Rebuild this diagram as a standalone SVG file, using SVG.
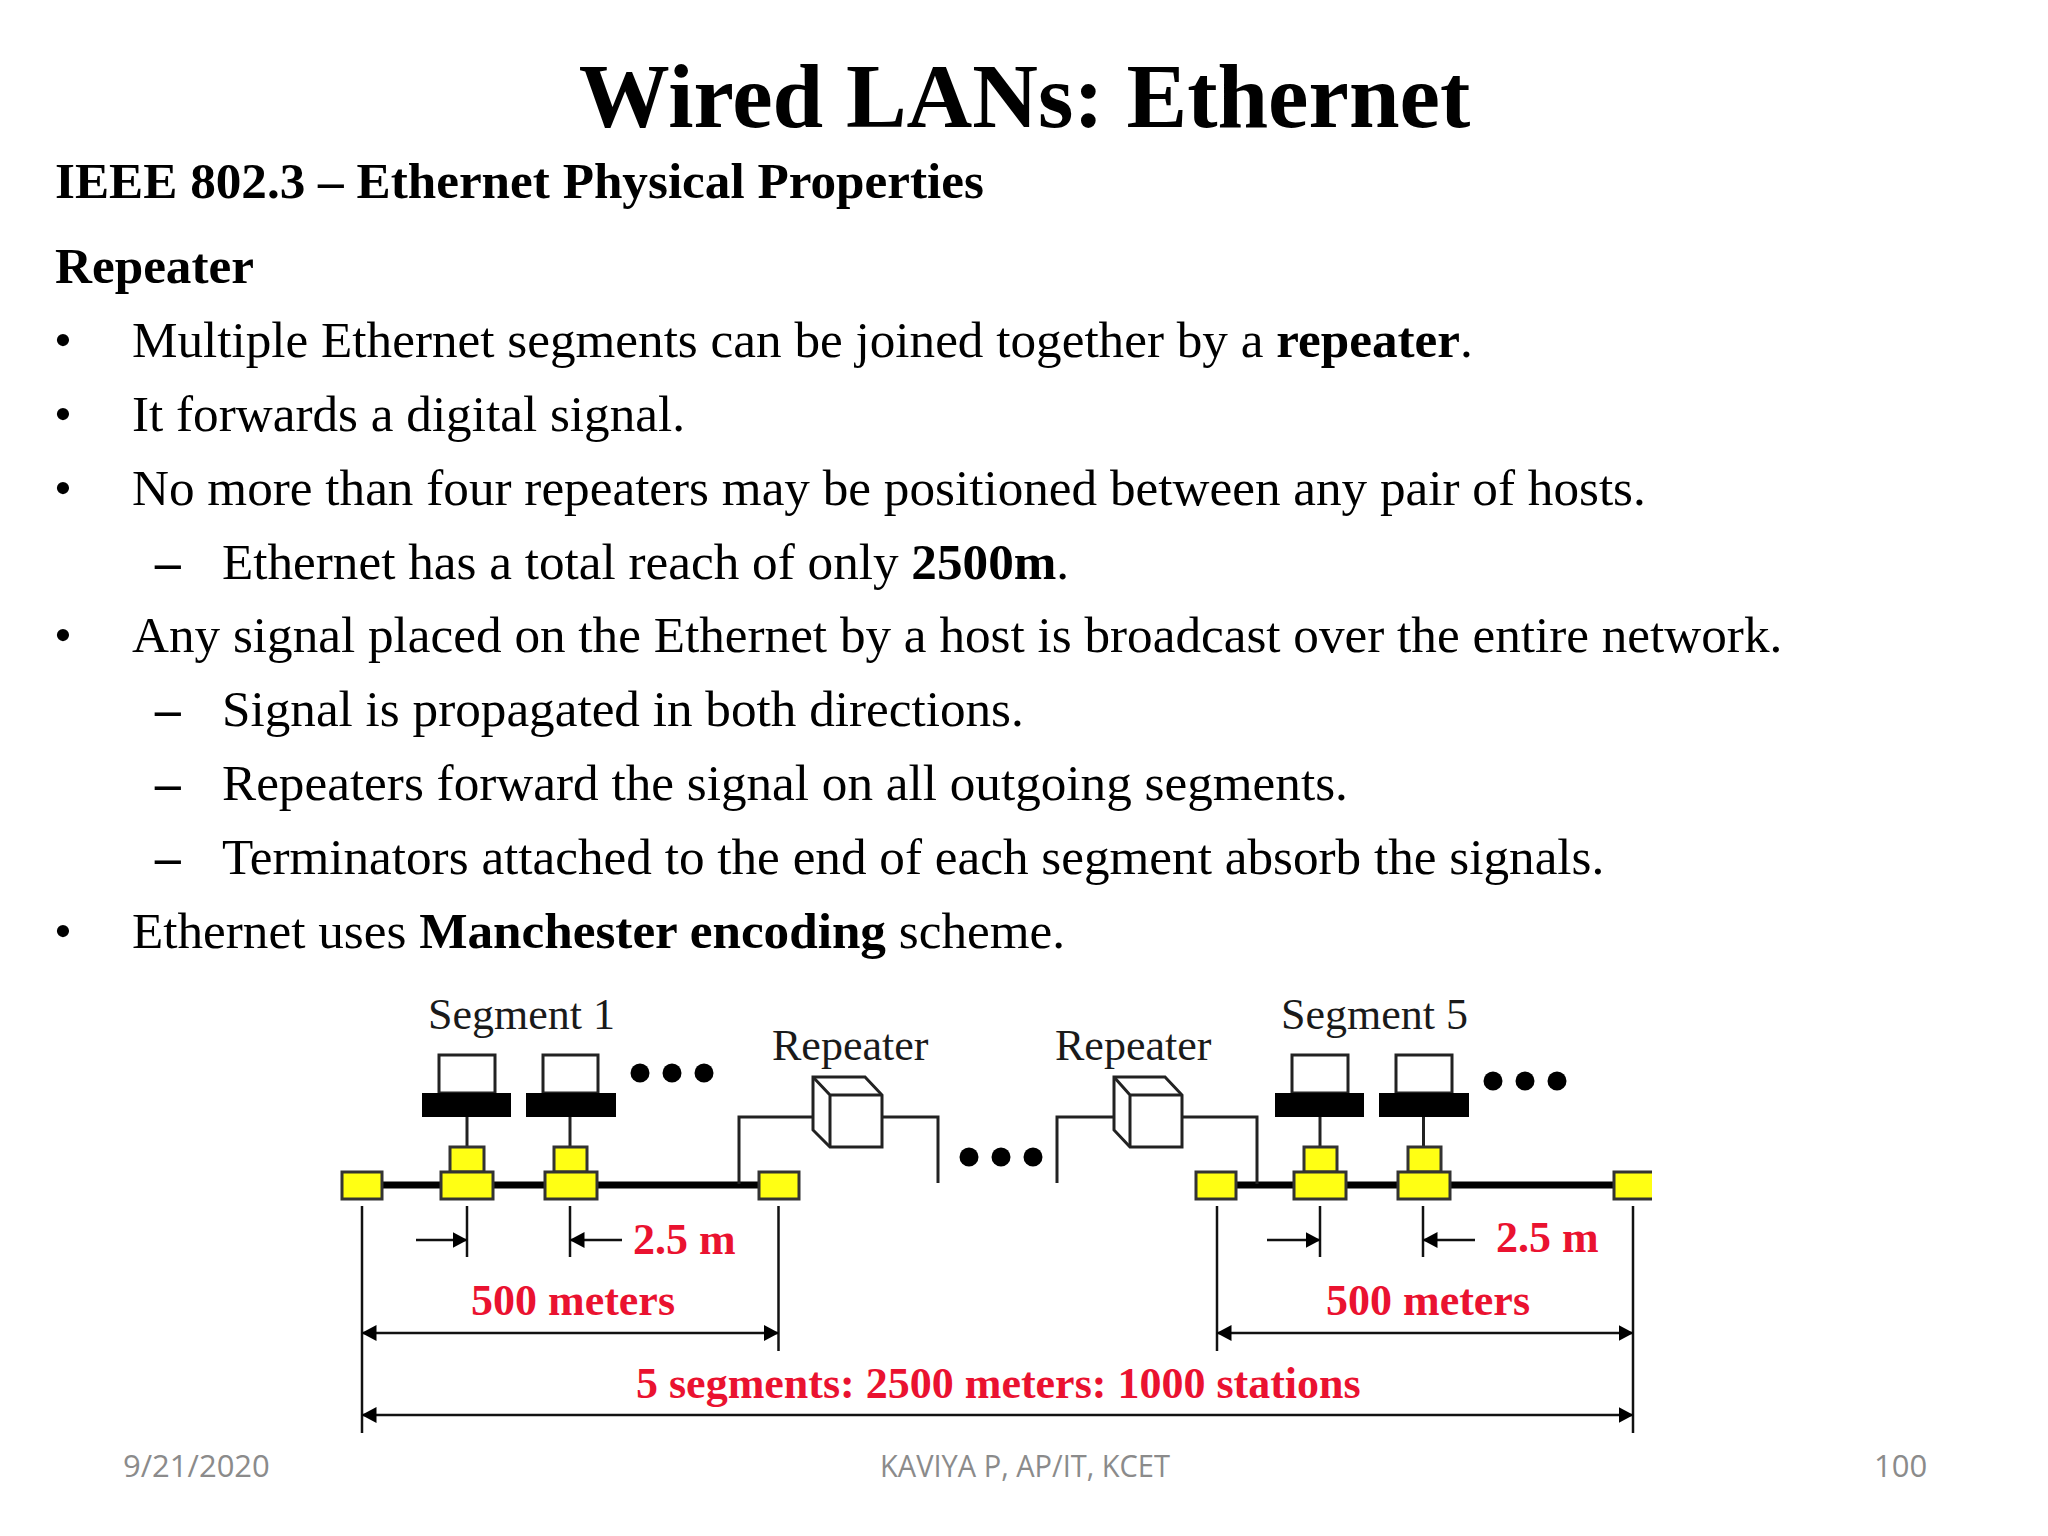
<svg xmlns="http://www.w3.org/2000/svg" width="2048" height="1536" viewBox="0 0 2048 1536">
<style>
text{font-family:"Liberation Serif","Times New Roman",serif;fill:#000}
.b{font-weight:bold}
.t{font-size:91px;font-weight:bold}
.h{font-size:51.200px;font-weight:bold}
.p{font-size:51.200px}
.l{font-size:44px;fill:#1a1a1a}
.r{font-size:44px;font-weight:bold;fill:#ea1230}
.f{font-family:"Open Sans","Noto Sans",sans-serif;font-size:31px;fill:#8b8b8b}
.y{fill:#ffff14;stroke:#333;stroke-width:3}
.w{fill:#fff;stroke:#222;stroke-width:3}
.k{fill:#000}
.s{fill:none;stroke:#222;stroke-width:3}
.c{fill:none;stroke:#000;stroke-width:7}
.d{fill:none;stroke:#111;stroke-width:2.500}
.a{marker-end:url(#ah)}
.aa{marker-start:url(#ah);marker-end:url(#ah)}
</style>
<defs>
<marker id="ah" markerUnits="userSpaceOnUse" markerWidth="16" markerHeight="18" refX="14.500" refY="8" orient="auto-start-reverse"><path d="M0 0L15 8L0 16Z" fill="#000"/></marker>
</defs>
<rect width="2048" height="1536" fill="#fff"/>
<g id="slide-text">
<text class="t" x="1024.500" y="127" text-anchor="middle">Wired LANs: Ethernet</text>
<text class="h" x="55" y="198">IEEE 802.3 – Ethernet Physical Properties</text>
<text class="h" x="55" y="283">Repeater</text>
<text class="p" x="54" y="357">•</text><text class="p" x="132" y="357">Multiple Ethernet segments can be joined together by a <tspan class="b">repeater</tspan>.</text>
<text class="p" x="54" y="431">•</text><text class="p" x="132" y="431">It forwards a digital signal.</text>
<text class="p" x="54" y="505">•</text><text class="p" x="132" y="505">No more than four repeaters may be positioned between any pair of hosts.</text>
<text class="p b" x="155" y="578.500">–</text><text class="p" x="222" y="578.500">Ethernet has a total reach of only <tspan class="b">2500m</tspan>.</text>
<text class="p" x="54" y="652">•</text><text class="p" x="132" y="652">Any signal placed on the Ethernet by a host is broadcast over the entire network.</text>
<text class="p b" x="155" y="726">–</text><text class="p" x="222" y="726">Signal is propagated in both directions.</text>
<text class="p b" x="155" y="800">–</text><text class="p" x="222" y="800">Repeaters forward the signal on all outgoing segments.</text>
<text class="p b" x="155" y="874">–</text><text class="p" x="222" y="874">Terminators attached to the end of each segment absorb the signals.</text>
<text class="p" x="54" y="947.500">•</text><text class="p" x="132" y="947.500">Ethernet uses <tspan class="b">Manchester encoding</tspan> scheme.</text>
</g>
<g id="connectors">
<path class="c" d="M383 1185H759"/>
<path class="c" d="M1237 1185H1615"/>
<path class="s" d="M739 1184V1117H813"/>
<path class="s" d="M882 1117H938V1183"/>
<path class="s" d="M1057 1183V1117H1114"/>
<path class="s" d="M1182 1117H1257V1184"/>
<path class="s" d="M467 1117V1147"/>
<path class="s" d="M570 1117V1147"/>
<path class="s" d="M1320 1117V1147"/>
<path class="s" d="M1423.500 1117V1147"/>
<path class="d" d="M362 1206V1433"/>
<path class="d" d="M778.500 1206V1351"/>
<path class="d" d="M1217 1206V1351"/>
<path class="d" d="M1633 1206V1433"/>
<path class="d" d="M467 1206V1257"/>
<path class="d" d="M570 1206V1257"/>
<path class="d" d="M1320 1206V1257"/>
<path class="d" d="M1423 1206V1257"/>
<path class="d a" d="M416 1240H467"/>
<path class="d a" d="M622 1240H570"/>
<path class="d a" d="M1267 1240H1320"/>
<path class="d a" d="M1475 1240H1423"/>
<path class="d aa" d="M362 1333H778.500"/>
<path class="d aa" d="M1217 1333H1633"/>
<path class="d aa" d="M362 1415H1633"/>
</g>
<g id="terminator-1"><rect class="y" x="342" y="1172" width="40" height="27"/></g>
<g id="station-1"><rect class="w" x="439" y="1055" width="56" height="38"/><rect class="k" x="422" y="1093" width="89" height="24"/><rect class="y" x="450" y="1147" width="34" height="25"/><rect class="y" x="441" y="1172" width="52" height="27"/></g>
<g id="station-2"><rect class="w" x="543" y="1055" width="55" height="38"/><rect class="k" x="526" y="1093" width="90" height="24"/><rect class="y" x="554" y="1147" width="33" height="25"/><rect class="y" x="545" y="1172" width="52" height="27"/></g>
<g id="terminator-2"><rect class="y" x="759" y="1172" width="40" height="27"/></g>
<g id="dots-1" class="k"><ellipse cx="640" cy="1073" rx="9.500" ry="9.500"/><ellipse cx="672" cy="1073" rx="9.500" ry="9.500"/><ellipse cx="704" cy="1073" rx="9.500" ry="9.500"/></g>
<g id="repeater-1"><path class="w" d="M813 1077H865L882 1095V1147H830L813 1130Z"/><path class="s" d="M813 1077L830 1095H882M830 1095V1147"/></g>
<g id="dots-2" class="k"><ellipse cx="969" cy="1157" rx="9.500" ry="9.500"/><ellipse cx="1001" cy="1157" rx="9.500" ry="9.500"/><ellipse cx="1033" cy="1157" rx="9.500" ry="9.500"/></g>
<g id="repeater-2"><path class="w" d="M1114 1077H1165L1182 1095V1147H1130L1114 1130Z"/><path class="s" d="M1114 1077L1130 1095H1182M1130 1095V1147"/></g>
<g id="terminator-3"><rect class="y" x="1196" y="1172" width="40" height="27"/></g>
<g id="station-3"><rect class="w" x="1292" y="1055" width="56" height="38"/><rect class="k" x="1275" y="1093" width="89" height="24"/><rect class="y" x="1304" y="1147" width="33" height="25"/><rect class="y" x="1294" y="1172" width="52" height="27"/></g>
<g id="station-4"><rect class="w" x="1396" y="1055" width="56" height="38"/><rect class="k" x="1379" y="1093" width="90" height="24"/><rect class="y" x="1408" y="1147" width="33" height="25"/><rect class="y" x="1398" y="1172" width="52" height="27"/></g>
<g id="terminator-4"><path class="y" d="M1652 1172H1614V1199H1652"/></g>
<g id="dots-3" class="k"><ellipse cx="1493" cy="1081" rx="9.500" ry="9.500"/><ellipse cx="1525" cy="1081" rx="9.500" ry="9.500"/><ellipse cx="1557" cy="1081" rx="9.500" ry="9.500"/></g>
<g id="labels">
<text class="l" x="428" y="1029">Segment 1</text>
<text class="l" x="772" y="1060">Repeater</text>
<text class="l" x="1055" y="1060">Repeater</text>
<text class="l" x="1281" y="1029">Segment 5</text>
<text class="r" x="633" y="1254">2.5 m</text>
<text class="r" x="471" y="1315">500 meters</text>
<text class="r" x="1496" y="1252">2.5 m</text>
<text class="r" x="1326" y="1315">500 meters</text>
<text class="r" x="636" y="1398">5 segments: 2500 meters: 1000 stations</text>
</g>
<g id="footer">
<text class="f" x="123" y="1477">9/21/2020</text>
<text class="f" x="880" y="1477" textLength="290" lengthAdjust="spacingAndGlyphs">KAVIYA P, AP/IT, KCET</text>
<text class="f" x="1874" y="1477">100</text>
</g>
</svg>
